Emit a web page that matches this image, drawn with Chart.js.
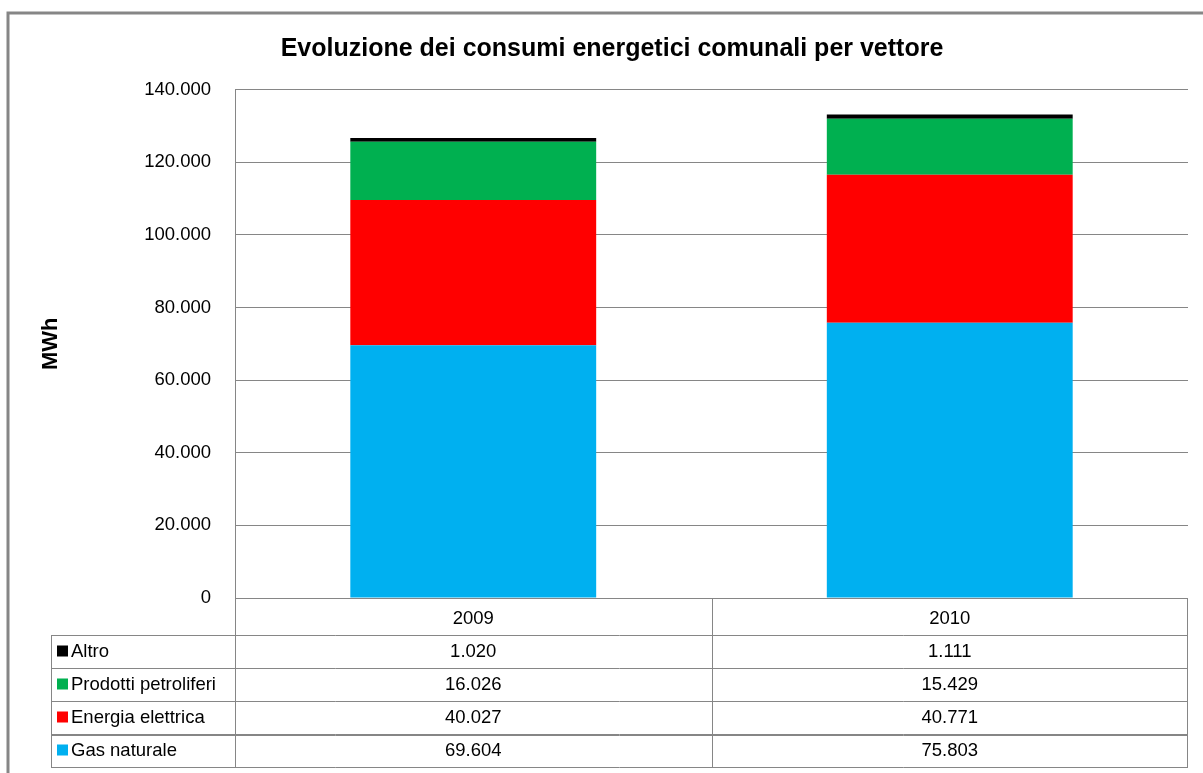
<!DOCTYPE html>
<html>
<head>
<meta charset="utf-8">
<script src="https://cdn.jsdelivr.net/npm/chart.js@4"></script>
<style>
  body { margin: 0; background: #fff; }
</style>
</head>
<body>
<canvas id="energyChart" width="1203" height="773"></canvas>
<script>
const categories = ['2009', '2010'];
const gasNaturale = [69604, 75803];
const energiaElettrica = [40027, 40771];
const prodottiPetroliferi = [16026, 15429];
const altro = [1020, 1111];
const yTicks = [0, 20000, 40000, 60000, 80000, 100000, 120000, 140000];

const gridColor = '#868686';
const fontFamily = '"Liberation Sans", Arial, sans-serif';

function fmt(v) {
  return String(v).replace(/\B(?=(\d{3})+(?!\d))/g, '.');
}

// data table under the chart, drawn from the datasets
const dataTable = {
  id: 'dataTable',
  afterDraw(chart) {
    const ctx = chart.ctx;
    const area = chart.chartArea;
    const x = chart.scales.x;
    const rowH = 33;
    const labelLeft = area.left - 184;
    const top = x.bottom;
    const rows = chart.data.datasets.slice().reverse();
    const bottom = top + rowH * rows.length;

    ctx.save();
    // frame
    ctx.strokeStyle = gridColor;
    ctx.lineWidth = 3;
    ctx.beginPath();
    ctx.moveTo(8, chart.height + 5);
    ctx.lineTo(8, 13);
    ctx.lineTo(chart.width + 5, 13);
    ctx.stroke();

    ctx.lineWidth = 1;
    ctx.beginPath();
    // vertical lines
    const mid = Math.round((x.getPixelForValue(0) + x.getPixelForValue(1)) / 2) + 0.5;
    ctx.moveTo(area.left + 0.5, area.bottom);
    ctx.lineTo(area.left + 0.5, bottom);
    ctx.moveTo(mid, area.bottom);
    ctx.lineTo(mid, bottom);
    ctx.moveTo(area.right - 0.5, area.bottom);
    ctx.lineTo(area.right - 0.5, bottom);
    ctx.moveTo(labelLeft + 0.5, top);
    ctx.lineTo(labelLeft + 0.5, bottom);
    // horizontal lines
    for (let i = 0; i <= rows.length; i++) {
      const y = Math.round(top + i * rowH) + 0.5;
      ctx.moveTo(labelLeft, y);
      ctx.lineTo(area.right, y);
    }
    ctx.stroke();
    // double line above last row
    ctx.beginPath();
    const yd = Math.round(top + (rows.length - 1) * rowH) + 1.5;
    ctx.moveTo(labelLeft, yd);
    ctx.lineTo(area.right, yd);
    ctx.stroke();

    ctx.font = '18.5px ' + fontFamily;
    ctx.textBaseline = 'middle';
    rows.forEach((ds, i) => {
      const cy = top + i * rowH + rowH / 2;
      ctx.fillStyle = ds.backgroundColor;
      ctx.fillRect(labelLeft + 6, cy - 6, 11, 11);
      ctx.fillStyle = '#000';
      ctx.textAlign = 'left';
      ctx.fillText(ds.label, labelLeft + 20, cy);
      ctx.textAlign = 'center';
      ds.data.forEach((v, j) => {
        ctx.fillText(fmt(v), x.getPixelForValue(j), cy);
      });
    });
    ctx.restore();
  }
};

const ctx = document.getElementById('energyChart').getContext('2d');
new Chart(ctx, {
  type: 'bar',
  data: {
    labels: categories,
    datasets: [
      { label: 'Gas naturale', data: gasNaturale, backgroundColor: '#00B0F0' },
      { label: 'Energia elettrica', data: energiaElettrica, backgroundColor: '#FF0000' },
      { label: 'Prodotti petroliferi', data: prodottiPetroliferi, backgroundColor: '#00B050' },
      { label: 'Altro', data: altro, backgroundColor: '#000000' }
    ]
  },
  options: {
    responsive: false,
    animation: false,
    layout: { padding: { left: 36, right: 15, top: 13, bottom: 138 } },
    datasets: { bar: { categoryPercentage: 1, barPercentage: 0.516 } },
    plugins: {
      legend: { display: false },
      tooltip: { enabled: false },
      title: {
        display: true,
        text: 'Evoluzione dei consumi energetici comunali per vettore',
        color: '#000',
        font: { family: fontFamily, size: 25, weight: 'bold' },
        padding: { top: 21, bottom: 25.6 }
      }
    },
    scales: {
      x: {
        stacked: true,
        grid: { display: false },
        border: { display: false },
        ticks: { color: '#000', font: { family: fontFamily, size: 18.5 }, padding: 2 },
        afterFit(scale) { scale.height = 37; }
      },
      y: {
        stacked: true,
        min: 0,
        max: 140000,
        afterBuildTicks(scale) { scale.ticks = yTicks.map(v => ({ value: v })); },
        grid: { color: gridColor, drawTicks: false },
        border: { color: gridColor },
        ticks: {
          color: '#000',
          padding: 24,
          font: { family: fontFamily, size: 18.5 },
          callback: v => fmt(v)
        },
        title: {
          display: true,
          text: 'MWh',
          color: '#000',
          font: { family: fontFamily, size: 22, weight: 'bold' },
          padding: { top: 2 }
        },
        afterFit(scale) { scale.width = 199; }
      }
    }
  },
  plugins: [dataTable]
});
</script>
</body>
</html>
